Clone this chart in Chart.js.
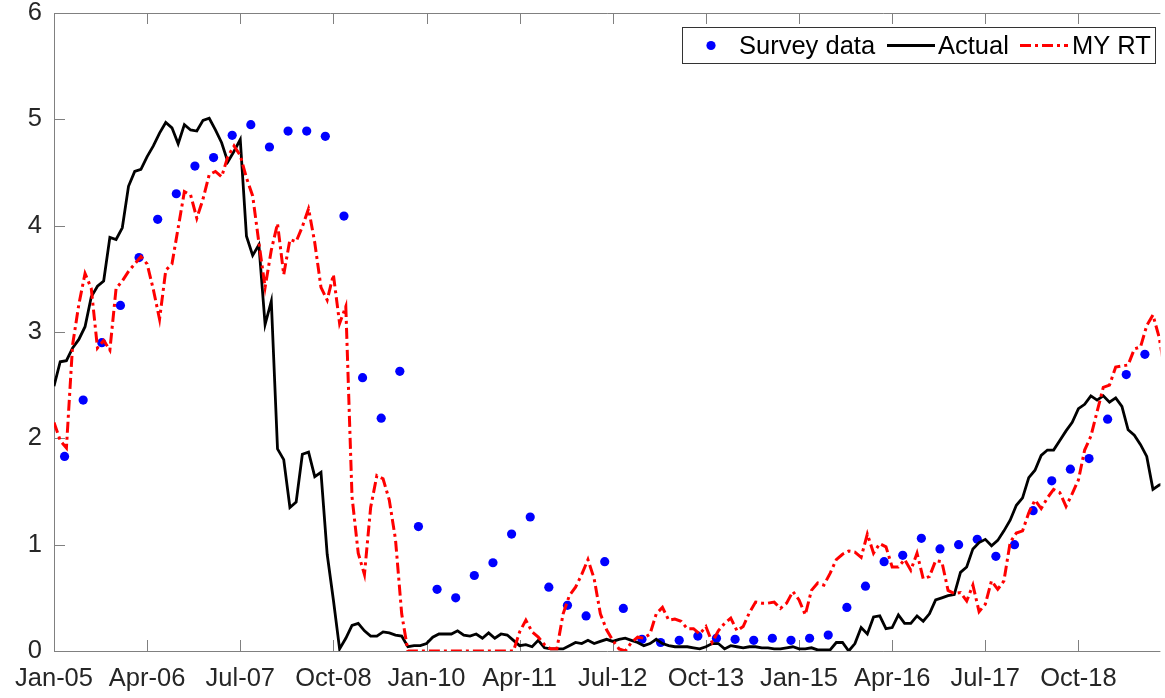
<!DOCTYPE html>
<html>
<head>
<meta charset="utf-8">
<script src="https://cdn.jsdelivr.net/npm/chart.js@4.4.0/dist/chart.umd.min.js"></script>
<style>
  html, body { margin: 0; padding: 0; background: #fff; }
  #tasas { display: block; }
</style>
</head>
<body>
<canvas id="tasas" width="1165" height="698"></canvas>
<script>
// monthly series, index 0 = Jan-05
const actual = [
  2.49, 2.72, 2.73, 2.85, 2.93, 3.05, 3.33, 3.43, 3.48, 3.89,
  3.87, 3.98, 4.37, 4.51, 4.53, 4.65, 4.75, 4.87, 4.97, 4.92,
  4.77, 4.95, 4.90, 4.89, 4.99, 5.01, 4.90, 4.78, 4.60, 4.70,
  4.81, 3.90, 3.72, 3.82, 3.07, 3.29, 1.90, 1.80, 1.35, 1.40,
  1.85, 1.87, 1.64, 1.68, 0.91, 0.48, 0.02, 0.12, 0.24, 0.26,
  0.19, 0.14, 0.14, 0.18, 0.17, 0.15, 0.14, 0.04, 0.05, 0.05,
  0.07, 0.13, 0.16, 0.16, 0.16, 0.19, 0.15, 0.14, 0.16, 0.12,
  0.17, 0.12, 0.16, 0.15, 0.10, 0.05, 0.06, 0.04, 0.10, 0.03,
  0.02, 0.02, 0.02, 0.05, 0.08, 0.07, 0.10, 0.07, 0.09, 0.11,
  0.09, 0.11, 0.12, 0.10, 0.08, 0.05, 0.07, 0.11, 0.07, 0.05,
  0.04, 0.04, 0.04, 0.03, 0.02, 0.04, 0.07, 0.07, 0.02, 0.05,
  0.04, 0.03, 0.04, 0.04, 0.03, 0.03, 0.02, 0.02, 0.03, 0.04,
  0.02, 0.02, 0.03, 0.01, 0.01, 0.01, 0.08, 0.08, 0.00, 0.07,
  0.22, 0.16, 0.32, 0.33, 0.21, 0.22, 0.34, 0.26, 0.26, 0.33,
  0.28, 0.35, 0.48, 0.50, 0.52, 0.53, 0.74, 0.79, 0.96, 1.02,
  1.05, 0.99, 1.04, 1.13, 1.23, 1.37, 1.44, 1.63, 1.70, 1.84,
  1.89, 1.89, 1.98, 2.07, 2.15, 2.28, 2.32, 2.40, 2.36, 2.40,
  2.34, 2.38, 2.30, 2.08, 2.03, 1.94, 1.83, 1.52, 1.56, 1.58
];

const myRT = [
  2.15, 1.98, 1.91, 2.88, 3.26, 3.55, 3.41, 2.85, 2.92, 2.83,
  3.41, 3.48, 3.57, 3.64, 3.71, 3.64, 3.40, 3.12, 3.58, 3.64,
  3.98, 4.32, 4.29, 4.07, 4.25, 4.48, 4.51, 4.46, 4.65, 4.75,
  4.66, 4.45, 4.28, 3.84, 3.42, 3.77, 4.02, 3.54, 3.87, 3.85,
  3.99, 4.16, 3.84, 3.42, 3.30, 3.54, 3.08, 3.24, 1.45, 0.92,
  0.72, 1.35, 1.65, 1.62, 1.42, 1.05, 0.35, 0.00, 0.00, 0.00,
  0.00, 0.00, 0.00, 0.00, 0.00, 0.00, 0.00, 0.00, 0.00, 0.00,
  0.00, 0.00, 0.00, 0.00, 0.00, 0.18, 0.29, 0.18, 0.13, 0.06,
  0.02, 0.02, 0.35, 0.52, 0.60, 0.72, 0.86, 0.68, 0.35, 0.20,
  0.10, 0.02, 0.00, 0.08, 0.13, 0.12, 0.16, 0.35, 0.41, 0.29,
  0.30, 0.28, 0.21, 0.21, 0.16, 0.23, 0.08, 0.19, 0.26, 0.31,
  0.19, 0.23, 0.36, 0.46, 0.45, 0.45, 0.46, 0.40, 0.45, 0.56,
  0.48, 0.34, 0.57, 0.64, 0.62, 0.73, 0.86, 0.91, 0.94, 0.93,
  0.88, 1.10, 0.92, 1.01, 0.98, 0.79, 0.79, 0.86, 0.76, 0.92,
  0.68, 0.70, 0.85, 0.84, 0.57, 0.54, 0.55, 0.47, 0.62, 0.37,
  0.44, 0.66, 0.58, 0.66, 1.02, 1.11, 1.13, 1.30, 1.42, 1.34,
  1.44, 1.52, 1.49, 1.36, 1.48, 1.61, 1.89, 2.02, 2.25, 2.48,
  2.50, 2.67, 2.68, 2.69, 2.84, 2.86, 3.06, 3.16, 2.95, 2.60
];

// quarterly survey, first reading Feb-05
const survey = [
  1.83, 2.36, 2.90, 3.25, 3.70, 4.06, 4.30, 4.56, 4.64, 4.85,
  4.95, 4.74, 4.89, 4.89, 4.84, 4.09, 2.57, 2.19, 2.63, 1.17,
  0.58, 0.50, 0.71, 0.83, 1.10, 1.26, 0.60, 0.43, 0.33, 0.84,
  0.40, 0.11, 0.08, 0.10, 0.14, 0.12, 0.11, 0.10, 0.12, 0.10,
  0.12, 0.15, 0.41, 0.61, 0.84, 0.90, 1.06, 0.96, 1.00, 1.05,
  0.89, 1.00, 1.32, 1.60, 1.71, 1.81, 2.18, 2.60, 2.79
];

const tickLabels = ['Jan-05', 'Apr-06', 'Jul-07', 'Oct-08', 'Jan-10', 'Apr-11',
                    'Jul-12', 'Oct-13', 'Jan-15', 'Apr-16', 'Jul-17', 'Oct-18'];

const fuente = '"Liberation Sans", Arial, Helvetica, sans-serif';
const fontSize = 25.5;
const ejeColor = '#808080';
const tickLen = 11;

const lineaActual = actual.map((v, i) => ({ x: i, y: v }));
const lineaRT = myRT.map((v, i) => ({ x: i, y: v }));
const puntosEncuesta = survey.map((v, i) => ({ x: 1.7 + 3 * i, y: v }));

// box, inward ticks
const ejes = {
  id: 'ejes',
  beforeDatasetsDraw(chart) {
    const { ctx, chartArea: a, scales: { x, y } } = chart;
    ctx.save();
    ctx.strokeStyle = ejeColor;
    ctx.lineWidth = 1;
    ctx.beginPath();
    ctx.moveTo(a.left + 0.5, a.top + 0.5);
    ctx.lineTo(a.left + 0.5, a.bottom + 0.5);
    ctx.lineTo(a.right, a.bottom + 0.5);
    ctx.moveTo(a.left, a.top + 0.5);
    ctx.lineTo(a.right, a.top + 0.5);
    x.ticks.forEach(t => {
      const px = Math.round(x.getPixelForValue(t.value)) + 0.5;
      ctx.moveTo(px, a.bottom);
      ctx.lineTo(px, a.bottom - tickLen);
      ctx.moveTo(px, a.top);
      ctx.lineTo(px, a.top + tickLen);
    });
    y.ticks.forEach(t => {
      const py = Math.round(y.getPixelForValue(t.value)) + 0.5;
      ctx.moveTo(a.left, py);
      ctx.lineTo(a.left + tickLen, py);
    });
    ctx.stroke();
    ctx.restore();
  },
  afterDraw(chart) {
    const { ctx } = chart;
    const ds = chart.data.datasets;
    const cy = 45.5;
    ctx.save();
    ctx.fillStyle = '#fff';
    ctx.fillRect(682.5, 27.5, 473, 36);
    ctx.strokeStyle = '#333';
    ctx.lineWidth = 1;
    ctx.strokeRect(682.5, 27.5, 473, 36);

    ctx.fillStyle = ds[0].pointBackgroundColor;
    ctx.beginPath();
    ctx.arc(711, cy, 4.6, 0, Math.PI * 2);
    ctx.fill();

    ctx.lineWidth = 3;
    ctx.strokeStyle = ds[1].borderColor;
    ctx.beginPath();
    ctx.moveTo(887, cy);
    ctx.lineTo(935, cy);
    ctx.stroke();

    ctx.strokeStyle = ds[2].borderColor;
    ctx.setLineDash(ds[2].borderDash);
    ctx.beginPath();
    ctx.moveTo(1020, cy);
    ctx.lineTo(1068, cy);
    ctx.stroke();
    ctx.setLineDash([]);

    ctx.fillStyle = '#000';
    ctx.font = fontSize + 'px ' + fuente;
    ctx.textBaseline = 'middle';
    ctx.textAlign = 'left';
    ctx.fillText(ds[0].label, 739, cy + 1);
    ctx.fillText(ds[1].label, 938, cy + 1);
    ctx.fillText(ds[2].label, 1072, cy + 1);
    ctx.restore();
  }
};

new Chart(document.getElementById('tasas'), {
  type: 'line',
  data: {
    datasets: [
      {
        label: 'Survey data',
        data: puntosEncuesta,
        showLine: false,
        pointRadius: 4.6,
        pointBorderWidth: 0,
        pointBackgroundColor: '#0000ff',
        borderColor: '#0000ff',
        order: 3
      },
      {
        label: 'Actual',
        data: lineaActual,
        borderColor: '#000000',
        borderWidth: 2.8,
        pointRadius: 0,
        tension: 0,
        order: 2
      },
      {
        label: 'MY RT',
        data: lineaRT,
        borderColor: '#ff0000',
        borderWidth: 3,
        borderDash: [11, 4, 3, 4],
        pointRadius: 0,
        tension: 0,
        order: 1
      }
    ]
  },
  options: {
    responsive: false,
    animation: false,
    devicePixelRatio: 1,
    layout: { padding: { left: 0, top: 13, right: 0, bottom: 0 } },
    plugins: {
      legend: { display: false },
      tooltip: { enabled: false }
    },
    scales: {
      x: {
        type: 'linear',
        min: 0,
        max: 178.2,
        grid: { display: false, drawTicks: false },
        border: { display: false },
        afterFit: s => {
          s.height = 47;
          s.paddingLeft = 0;
          s.paddingRight = 0;
        },
        afterBuildTicks: s => {
          s.ticks = tickLabels.map((_, i) => ({ value: i * 15 }));
        },
        ticks: {
          autoSkip: false,
          maxRotation: 0,
          padding: 13,
          color: '#262626',
          font: { family: fuente, size: fontSize },
          callback: (v) => tickLabels[Math.round(v / 15)]
        }
      },
      y: {
        min: 0,
        max: 6,
        grid: { display: false, drawTicks: false },
        border: { display: false },
        afterFit: s => {
          s.width = 54;
          s.paddingTop = 0;
          s.paddingBottom = 0;
        },
        ticks: {
          stepSize: 1,
          padding: 12,
          color: '#262626',
          font: { family: fuente, size: fontSize }
        }
      }
    }
  },
  plugins: [ejes]
});
</script>
</body>
</html>
